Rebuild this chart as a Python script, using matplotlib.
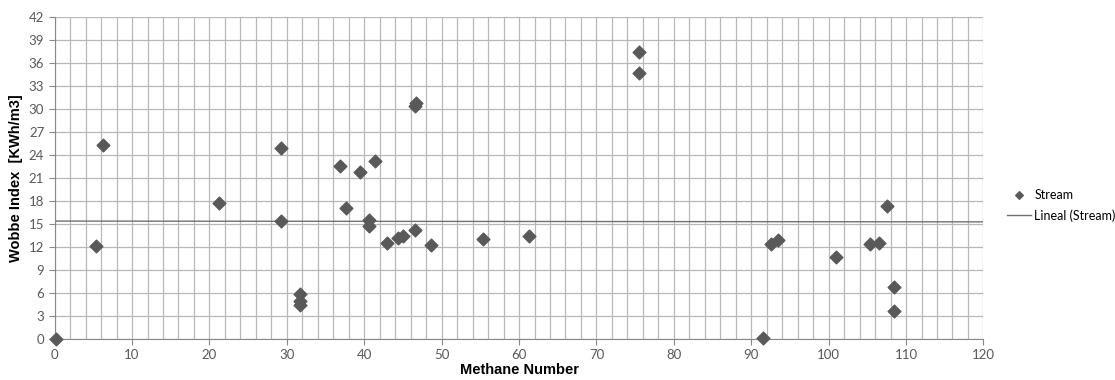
import numpy as np
import matplotlib.pyplot as plt
from matplotlib.ticker import MultipleLocator

# data
methane_number = np.array([0.15, 5.4, 6.2, 21.2, 29.2, 29.2, 31.7, 31.7, 31.7, 36.9,
                           37.6, 39.5, 40.6, 40.6, 41.4, 43.0, 44.4, 45.0, 46.6, 46.6,
                           46.7, 48.6, 55.3, 61.3, 75.5, 75.5, 91.5, 92.5, 93.4, 100.9,
                           105.4, 106.5, 107.5, 108.4, 108.4])
wobbe_index = np.array([0.0, 12.1, 25.3, 17.7, 25.0, 15.4, 5.9, 4.9, 4.5, 22.6,
                        17.1, 21.8, 15.5, 14.75, 23.3, 12.5, 13.2, 13.4, 14.3, 30.5,
                        30.8, 12.3, 13.1, 13.4, 37.5, 34.8, 0.1, 12.4, 12.9, 10.7,
                        12.4, 12.6, 17.4, 6.8, 3.7])

# linear trend line as drawn in the chart (ends at x = 0 and x = 120)
trend_x = [0, 120]
trend_y = [15.4, 15.3]

plt.rcParams['font.family'] = ['Lato', 'DejaVu Sans']

fig = plt.figure(figsize=(11.15, 3.8), dpi=100)
ax = fig.add_axes([0.049, 0.108, 0.833, 0.846])

# scatter points (not clipped, so the one at the origin shows whole)
ax.scatter(methane_number, wobbe_index, marker='D', s=42, color='#595959',
           zorder=3, label='Stream', clip_on=False)
ax.plot(trend_x, trend_y, color='#707070', lw=1.0, zorder=2,
        label='Lineal (Stream)')

ax.set_xlim(0, 120)
ax.set_ylim(0, 42)
ax.xaxis.set_major_locator(MultipleLocator(10))
ax.xaxis.set_minor_locator(MultipleLocator(2))
ax.yaxis.set_major_locator(MultipleLocator(3))

ax.grid(which='major', color='#b8b8b8', lw=0.9)
ax.grid(which='minor', axis='x', color='#b8b8b8', lw=0.9)
ax.set_axisbelow(True)

for side in ['top', 'right']:
    ax.spines[side].set_visible(False)
for side in ['left', 'bottom']:
    ax.spines[side].set_color('#888888')

ax.tick_params(which='major', length=4, color='#888888', labelsize=9.5,
               labelcolor='#595959')
ax.tick_params(which='minor', length=0)

ax.set_xlabel('Methane Number', fontsize=10.5, fontweight='bold',
              family='Liberation Sans', labelpad=1)
ax.set_ylabel('Wobbe Index  [KWh/m3]', fontsize=10.5, fontweight='bold',
              family='Liberation Sans', labelpad=4)

fig.legend(loc='center left', bbox_to_anchor=(0.903, 0.46), frameon=False,
           fontsize=9, handlelength=1.9, handletextpad=0.3, borderpad=0,
           borderaxespad=0, markerscale=0.6, labelspacing=0.7)

fig.savefig('out.png', dpi=100)
